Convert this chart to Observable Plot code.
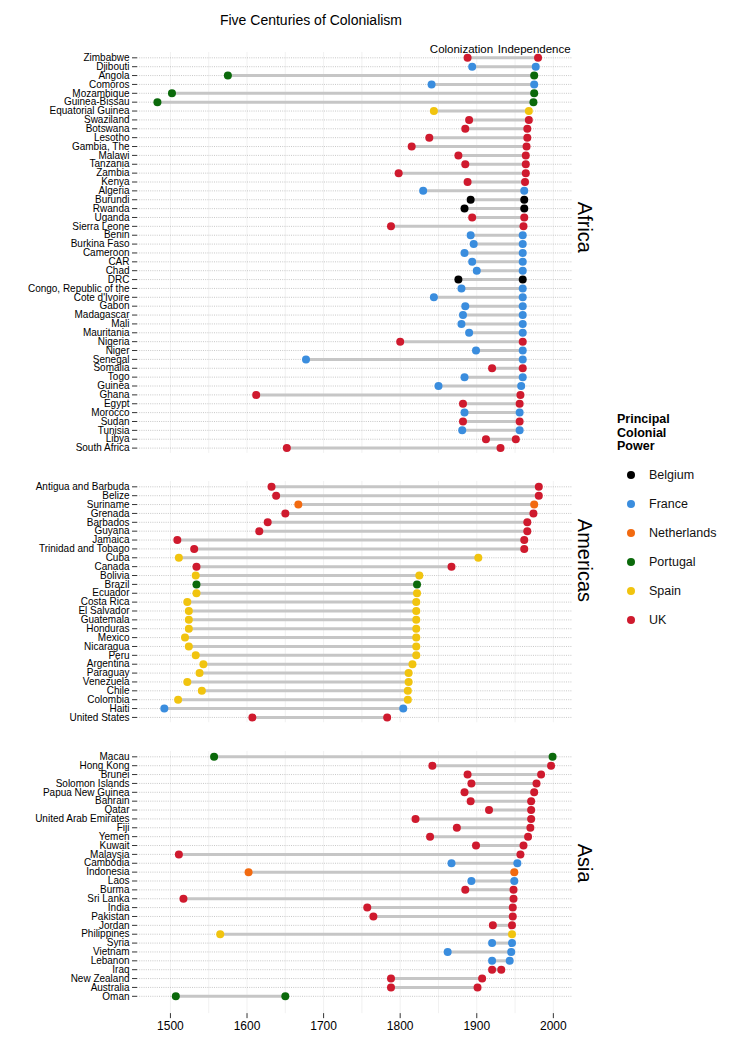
<!DOCTYPE html>
<html><head><meta charset="utf-8">
<script src="https://cdn.jsdelivr.net/npm/d3@7"></script>
<script src="https://cdn.jsdelivr.net/npm/@observablehq/plot@0.6"></script>
<style>
body{margin:0;background:#fff;font-family:"Liberation Sans",Arial,Helvetica,sans-serif;}
#wrap{position:relative;width:750px;height:1060px;overflow:hidden;}
.abs{position:absolute;left:0;}
#title{position:absolute;left:0;width:622px;top:11px;text-align:center;font-size:14px;line-height:18px;color:#000;}
</style></head><body><div id="wrap"><div id="title">Five Centuries of Colonialism</div></div>
<script>
const powers = ["Belgium","France","Netherlands","Portugal","Spain","UK"];
const powerColors = ["#000000","#3A8DDE","#F26A10","#0B6A0B","#F1C40F","#CF1A2E"];
const xTicks = [1500,1600,1700,1800,1900,2000];
const gridYears = [1500,1550,1600,1650,1700,1750,1800,1850,1900,1950,2000];
const headerLabels = ["Colonization","Independence"];
const headerYears = [1880,1975];

const africaNames = ["Zimbabwe","Djibouti","Angola","Comoros","Mozambique","Guinea-Bissau","Equatorial Guinea","Swaziland","Botswana","Lesotho","Gambia, The","Malawi","Tanzania","Zambia","Kenya","Algeria","Burundi","Rwanda","Uganda","Sierra Leone","Benin","Burkina Faso","Cameroon","CAR","Chad","DRC","Congo, Republic of the","Cote d'Ivoire","Gabon","Madagascar","Mali","Mauritania","Nigeria","Niger","Senegal","Somalia","Togo","Guinea","Ghana","Egypt","Morocco","Sudan","Tunisia","Libya","South Africa"];
const africaPower = ["UK","France","Portugal","France","Portugal","Portugal","Spain","UK","UK","UK","UK","UK","UK","UK","UK","France","Belgium","Belgium","UK","UK","France","France","France","France","France","Belgium","France","France","France","France","France","France","UK","France","France","UK","France","France","UK","UK","France","UK","France","UK","UK"];
const africaColonized = [1888,1894,1575,1841,1502,1483,1844,1890,1885,1838,1815,1876,1885,1798,1888,1830,1892,1884,1894,1788,1892,1896,1884,1894,1900,1876,1880,1844,1885,1882,1880,1890,1800,1899,1677,1920,1884,1850,1612,1882,1884,1882,1881,1912,1652];
const africaIndependence = [1980,1977,1975,1975,1975,1974,1968,1968,1966,1966,1965,1964,1964,1964,1963,1962,1962,1962,1962,1961,1960,1960,1960,1960,1960,1960,1960,1960,1960,1960,1960,1960,1960,1960,1960,1960,1960,1958,1957,1956,1956,1956,1956,1951,1931];

const americasNames = ["Antigua and Barbuda","Belize","Suriname","Grenada","Barbados","Guyana","Jamaica","Trinidad and Tobago","Cuba","Canada","Bolivia","Brazil","Ecuador","Costa Rica","El Salvador","Guatemala","Honduras","Mexico","Nicaragua","Peru","Argentina","Paraguay","Venezuela","Chile","Colombia","Haiti","United States"];
const americasPower = ["UK","UK","Netherlands","UK","UK","UK","UK","UK","Spain","UK","Spain","Portugal","Spain","Spain","Spain","Spain","Spain","Spain","Spain","Spain","Spain","Spain","Spain","Spain","Spain","France","UK"];
const americasColonized = [1632,1638,1667,1650,1627,1616,1509,1531,1511,1534,1533,1534,1534,1522,1524,1524,1524,1519,1524,1533,1543,1538,1522,1541,1510,1492,1607];
const americasIndependence = [1981,1981,1975,1974,1966,1966,1962,1962,1902,1867,1825,1822,1822,1821,1821,1821,1821,1821,1821,1821,1816,1811,1811,1810,1810,1804,1783];

const asiaNames = ["Macau","Hong Kong","Brunei","Solomon Islands","Papua New Guinea","Bahrain","Qatar","United Arab Emirates","Fiji","Yemen","Kuwait","Malaysia","Cambodia","Indonesia","Laos","Burma","Sri Lanka","India","Pakistan","Jordan","Philippines","Syria","Vietnam","Lebanon","Iraq","New Zealand","Australia","Oman"];
const asiaPower = ["Portugal","UK","UK","UK","UK","UK","UK","UK","UK","UK","UK","UK","France","Netherlands","France","UK","UK","UK","UK","UK","Spain","France","France","France","UK","UK","UK","Portugal"];
const asiaColonized = [1557,1842,1888,1893,1884,1892,1916,1820,1874,1839,1899,1511,1867,1602,1893,1885,1517,1757,1765,1921,1565,1920,1862,1920,1920,1788,1788,1507];
const asiaIndependence = [1999,1997,1984,1978,1975,1971,1971,1971,1970,1967,1961,1957,1953,1949,1949,1948,1948,1947,1947,1946,1946,1946,1945,1943,1932,1907,1901,1650];

const wrap = document.getElementById("wrap");
const STEP = 8.87;
const MT = 20;

function panel({label, names, power, col, ind, panelTop, showAxis, header}) {
  const n = names.length;
  const inner = STEP * (n - 1 + 1.2);
  const insetB = showAxis ? 12 : 0;
  const mb = showAxis ? 30 : 0;
  const rows = names.map((c, i) => ({country: c, power: power[i], start: col[i], end: ind[i]}));
  const marks = [
    Plot.ruleX(gridYears, {x: d => d, stroke: "#ebebeb", strokeWidth: 0.7}),
    Plot.ruleY(names, {y: d => d, stroke: "#b0b0b0", strokeWidth: 0.7, strokeDasharray: "1,1.2"}),
    Plot.ruleY(rows, {y: "country", x1: "start", x2: "end", stroke: "#c6c6c6", strokeWidth: 3}),
    Plot.dot(rows, {x: "start", y: "country", fill: "power", r: 4}),
    Plot.dot(rows, {x: "end", y: "country", fill: "power", r: 4}),
    Plot.axisY({tickSize: 5, tickPadding: 3, fontSize: 10, stroke: "#333", label: null}),
    Plot.text([label], {text: d => d, frameAnchor: "right", dx: 12, rotate: 90, fontSize: 20, fill: "#000"})
  ];
  if (header) {
    marks.push(Plot.text(headerLabels, {x: (d, i) => headerYears[i], text: d => d, frameAnchor: "top", dy: -7.7, fontSize: 11.5, fill: "#000"}));
  }
  if (showAxis) {
    marks.push(Plot.axisX(xTicks, {tickSize: 5, tickPadding: 3, fontSize: 12, tickFormat: d => String(d), stroke: "#333", label: null}));
  }
  const chart = Plot.plot({
    width: 750,
    height: MT + inner + insetB + mb,
    marginTop: MT,
    marginBottom: mb,
    marginLeft: 137,
    marginRight: 178,
    style: {background: "transparent", overflow: "visible", fontFamily: "'Liberation Sans', Arial, Helvetica, sans-serif", fontSize: "10px", color: "#000"},
    x: {domain: [1457, 2025], axis: showAxis ? undefined : null, label: null},
    y: {type: "point", domain: names, padding: 0.6, insetBottom: insetB, round: false, label: null},
    color: {domain: powers, range: powerColors},
    marks
  });
  chart.classList.add("abs");
  chart.style.top = (panelTop - MT) + "px";
  wrap.appendChild(chart);
}

panel({label: "Africa", names: africaNames, power: africaPower, col: africaColonized, ind: africaIndependence, panelTop: 51.7, showAxis: false, header: true});
panel({label: "Americas", names: americasNames, power: americasPower, col: americasColonized, ind: americasIndependence, panelTop: 480.7, showAxis: false, header: false});
panel({label: "Asia", names: asiaNames, power: asiaPower, col: asiaColonized, ind: asiaIndependence, panelTop: 750.7, showAxis: true, header: false});

// Legend
const leg = d3.create("svg").attr("width", 140).attr("height", 230)
  .style("position", "absolute").style("left", "610px").style("top", "408px")
  .style("font-family", "'Liberation Sans', Arial, Helvetica, sans-serif");
["Principal", "Colonial", "Power"].forEach((t, i) => {
  leg.append("text").attr("x", 7).attr("y", 15 + i * 13.5).attr("font-size", 12.5).attr("font-weight", "bold").attr("fill", "#000").text(t);
});
powers.forEach((p, i) => {
  const cy = 67 + i * 29;
  leg.append("circle").attr("cx", 21).attr("cy", cy).attr("r", 4).attr("fill", powerColors[i]);
  leg.append("text").attr("x", 39).attr("y", cy).attr("dy", "0.35em").attr("font-size", 12.5).attr("fill", "#111").text(p);
});
wrap.appendChild(leg.node());
</script></body></html>
